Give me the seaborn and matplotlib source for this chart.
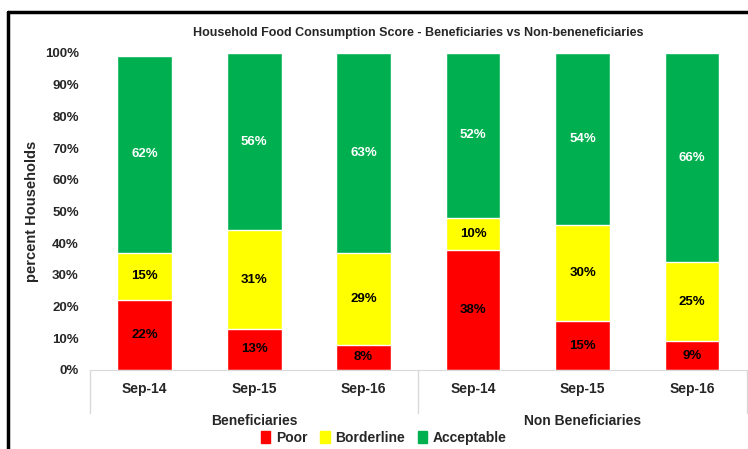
import pandas as pd
import matplotlib.pyplot as plt
import seaborn as sns
from matplotlib.lines import Line2D
from matplotlib.patches import Patch

# data (percent of households)
groups = ['Beneficiaries', 'Non Beneficiaries']
periods = ['Sep-14', 'Sep-15', 'Sep-16']
poor = [22, 13, 8, 38, 15.4, 9]
borderline = [15, 31, 29, 10, 30.2, 25]
acceptable = [62, 56, 63, 52, 54.4, 66]

colors = {'Poor': '#FF0000', 'Borderline': '#FFFF00', 'Acceptable': '#00B050'}

sns.set_style('white')
plt.rcParams['font.family'] = ['Liberation Sans', 'DejaVu Sans']

keys = [g + ' ' + p for g in groups for p in periods]
df = pd.DataFrame({'key': keys, 'poor': poor, 'borderline': borderline,
                   'acceptable': acceptable})
df['top_border'] = df['poor'] + df['borderline']
df['top_all'] = df['top_border'] + df['acceptable']

fig = plt.figure(figsize=(7.48, 4.49), dpi=100)
ax = fig.add_axes([0.1203, 0.176, 0.878, 0.706])

# stacked bars drawn as overlapping cumulative totals
sns.barplot(data=df, x='key', y='top_all', color=colors['Acceptable'],
            width=0.5, saturation=1, ax=ax, order=keys)
sns.barplot(data=df, x='key', y='top_border', color=colors['Borderline'],
            width=0.5, saturation=1, ax=ax, order=keys)
sns.barplot(data=df, x='key', y='poor', color=colors['Poor'],
            width=0.5, saturation=1, ax=ax, order=keys)

# value labels
for i, row in df.iterrows():
    ax.text(i, row['poor'] / 2, '%d%%' % round(row['poor']), ha='center',
            va='center', fontsize=9.5, fontweight='bold', color='black')
    ax.text(i, row['poor'] + row['borderline'] / 2, '%d%%' % round(row['borderline']),
            ha='center', va='center', fontsize=9.5, fontweight='bold', color='black')
    ax.text(i, row['top_border'] + row['acceptable'] / 2,
            '%d%%' % round(row['acceptable']), ha='center', va='center',
            fontsize=9.5, fontweight='bold', color='white')

ax.set_ylim(0, 100)
ax.set_xlim(-0.5, 5.5)
ax.set_yticks(range(0, 101, 10))
ax.set_yticklabels(['%d%%' % v for v in range(0, 101, 10)], fontsize=9.5,
                   fontweight='bold')
ax.set_xticks(range(6))
ax.set_xticklabels(periods * 2, fontsize=10, fontweight='bold')
ax.tick_params(axis='y', length=0, pad=8)
ax.tick_params(axis='x', length=0, pad=9)
ax.set_xlabel('')
ax.set_ylabel('percent Households', fontsize=10.5, fontweight='bold', labelpad=4)
for s in ['top', 'right', 'left']:
    ax.spines[s].set_visible(False)
ax.spines['bottom'].set_color('#D9D9D9')

# group separators and labels below the axis
trans = ax.get_xaxis_transform()
for xv in [-0.5, 2.5, 5.5]:
    ax.add_line(Line2D([xv, xv], [0, -0.135], transform=trans, color='#D9D9D9',
                       lw=1, clip_on=False))
for gi, g in enumerate(groups):
    ax.text(gi * 3 + 1, -0.16, g, transform=trans, ha='center', va='center',
            fontsize=10, fontweight='bold')

ax.set_title('Household Food Consumption Score - Beneficiaries vs Non-beneneficiaries',
             fontsize=9, fontweight='bold', pad=12)

handles = [Patch(color=c, label=k) for k, c in colors.items()]
fig.legend(handles=handles, loc='center', bbox_to_anchor=(0.513, 0.025), ncol=3,
           frameon=False, prop={'weight': 'bold', 'size': 10},
           handlelength=0.7, handleheight=0.9, handletextpad=0.4, columnspacing=0.9)

# outer frame lines (top and left edges of the screenshot)
fig.add_artist(Line2D([0.011, 1.0], [0.973, 0.973], color='black', lw=2.5,
                      transform=fig.transFigure))
fig.add_artist(Line2D([0.011, 0.011], [0.0, 0.973], color='black', lw=2.5,
                      transform=fig.transFigure))

fig.savefig('out.png', dpi=100)
